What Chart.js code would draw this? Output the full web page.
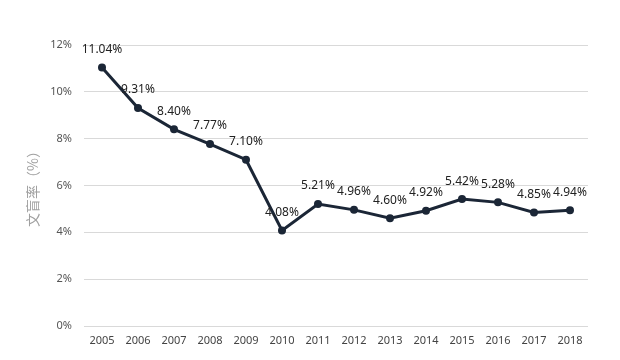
<!DOCTYPE html>
<html>
<head>
<meta charset="utf-8">
<script src="https://cdn.jsdelivr.net/npm/chart.js@4"></script>
<style>
html,body{margin:0;padding:0;background:#fff;}
#wrap{width:620px;height:360px;}
</style>
</head>
<body>
<div id="wrap"><canvas id="c" width="620" height="360"></canvas></div>
<script>
const years = ['2005','2006','2007','2008','2009','2010','2011','2012','2013','2014','2015','2016','2017','2018'];
const illiteracyRate = [11.04, 9.31, 8.40, 7.77, 7.10, 4.08, 5.21, 4.96, 4.60, 4.92, 5.42, 5.28, 4.85, 4.94];
const yTitle = '文盲率（%）';

const labelPlugin = {
  id: 'pointLabels',
  afterDatasetsDraw(chart) {
    const ctx = chart.ctx;
    const meta = chart.getDatasetMeta(0);
    ctx.save();
    ctx.font = '12px "Noto Sans", "Liberation Sans", sans-serif';
    ctx.fillStyle = '#222';
    ctx.textAlign = 'center';
    ctx.textBaseline = 'middle';
    meta.data.forEach((pt, i) => {
      ctx.fillText(illiteracyRate[i].toFixed(2) + '%', pt.x, pt.y - 18);
    });
    ctx.restore();
  }
};

new Chart(document.getElementById('c'), {
  type: 'line',
  data: {
    labels: years,
    datasets: [{
      data: illiteracyRate,
      borderColor: '#1b2636',
      backgroundColor: '#1b2636',
      borderWidth: 3,
      pointRadius: 4,
      pointBackgroundColor: '#1b2636',
      pointBorderWidth: 0,
      tension: 0
    }]
  },
  options: {
    responsive: false,
    animation: false,
    layout: { padding: { top: 45, right: 32, bottom: 0, left: 0 } },
    plugins: { legend: { display: false }, tooltip: { enabled: false } },
    scales: {
      x: {
        offset: true,
        grid: { display: false, drawTicks: false },
        border: { display: false },
        ticks: { color: '#444', font: { family: '"Noto Sans", "Liberation Sans", sans-serif', size: 11 }, padding: 8, maxRotation: 0 },
        afterFit(s) { s.height = 34; }
      },
      y: {
        min: 0, max: 12,
        grid: { color: '#d9d9d9', lineWidth: 1, drawTicks: false },
        border: { display: false },
        ticks: {
          stepSize: 2,
          color: '#555',
          padding: 12,
          font: { family: '"Noto Sans", "Liberation Sans", sans-serif', size: 11 },
          callback: v => v + '%'
        },
        title: {
          display: true,
          text: yTitle,
          color: '#a0a0a0',
          font: { family: '"Noto Sans CJK SC", sans-serif', size: 14 },
          padding: { top: 24, bottom: 0 }
        },
        afterFit(s) { s.width = 84; }
      }
    }
  },
  plugins: [labelPlugin]
});
</script>
</body>
</html>
